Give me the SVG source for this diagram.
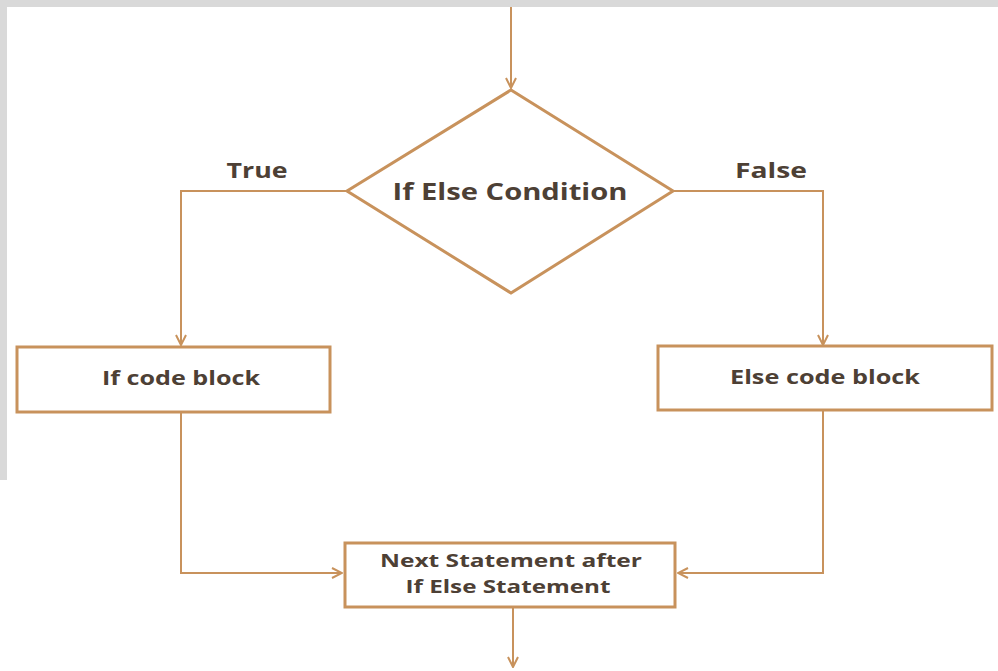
<svg xmlns="http://www.w3.org/2000/svg" width="998" height="671" viewBox="0 0 998 671">
  <style>
    .box { fill: #ffffff; stroke: #c8925c; stroke-width: 3; }
    .edge { fill: none; stroke: #c8925c; stroke-width: 2; }
    .lbl { font-family: "Open Sans", "Liberation Sans", sans-serif; font-weight: bold; fill: #4d4035; text-anchor: middle; }
  </style>
  <defs>
    <marker id="arrow" viewBox="0 0 12 12" refX="11" refY="6" markerWidth="12" markerHeight="12" markerUnits="userSpaceOnUse" orient="auto">
      <path d="M1,1 L11,6 L1,11" fill="none" stroke="#c8925c" stroke-width="2"/>
    </marker>
  </defs>

  <!-- page background with grey frame strips -->
  <rect x="0" y="0" width="998" height="671" fill="#ffffff"/>
  <rect x="0" y="0" width="998" height="7" fill="#d9d9d9"/>
  <rect x="0" y="0" width="7" height="480" fill="#d9d9d9"/>

  <g id="connectors">
    <line class="edge" x1="511" y1="7" x2="511" y2="88" marker-end="url(#arrow)"/>
    <polyline class="edge" points="347,191 181,191 181,345" marker-end="url(#arrow)"/>
    <polyline class="edge" points="673,191 823,191 823,345" marker-end="url(#arrow)"/>
    <polyline class="edge" points="181,413 181,573 342,573" marker-end="url(#arrow)"/>
    <polyline class="edge" points="823,411 823,573 678,573" marker-end="url(#arrow)"/>
    <line class="edge" x1="513" y1="608" x2="513" y2="667" marker-end="url(#arrow)"/>
    <text class="lbl" x="257" y="178" font-size="22" textLength="61" lengthAdjust="spacingAndGlyphs">True</text>
    <text class="lbl" x="771" y="178" font-size="22" textLength="72" lengthAdjust="spacingAndGlyphs">False</text>
  </g>

  <g id="condition">
    <polygon class="box" points="511,90 673,191 511,293 347,191"/>
    <text class="lbl" x="510" y="200" font-size="23" textLength="235" lengthAdjust="spacingAndGlyphs">If Else Condition</text>
  </g>

  <g id="if-block">
    <rect class="box" x="17" y="347" width="313" height="65"/>
    <text class="lbl" x="181" y="385" font-size="19" textLength="158" lengthAdjust="spacingAndGlyphs">If code block</text>
  </g>

  <g id="else-block">
    <rect class="box" x="658" y="346" width="334" height="64"/>
    <text class="lbl" x="825" y="384" font-size="19" textLength="190" lengthAdjust="spacingAndGlyphs">Else code block</text>
  </g>

  <g id="next-statement">
    <rect class="box" x="345" y="543" width="330" height="64"/>
    <text class="lbl" x="511" y="567" font-size="17" textLength="262" lengthAdjust="spacingAndGlyphs">Next Statement after</text>
    <text class="lbl" x="508" y="593" font-size="17" textLength="205" lengthAdjust="spacingAndGlyphs">If Else Statement</text>
  </g>
</svg>
